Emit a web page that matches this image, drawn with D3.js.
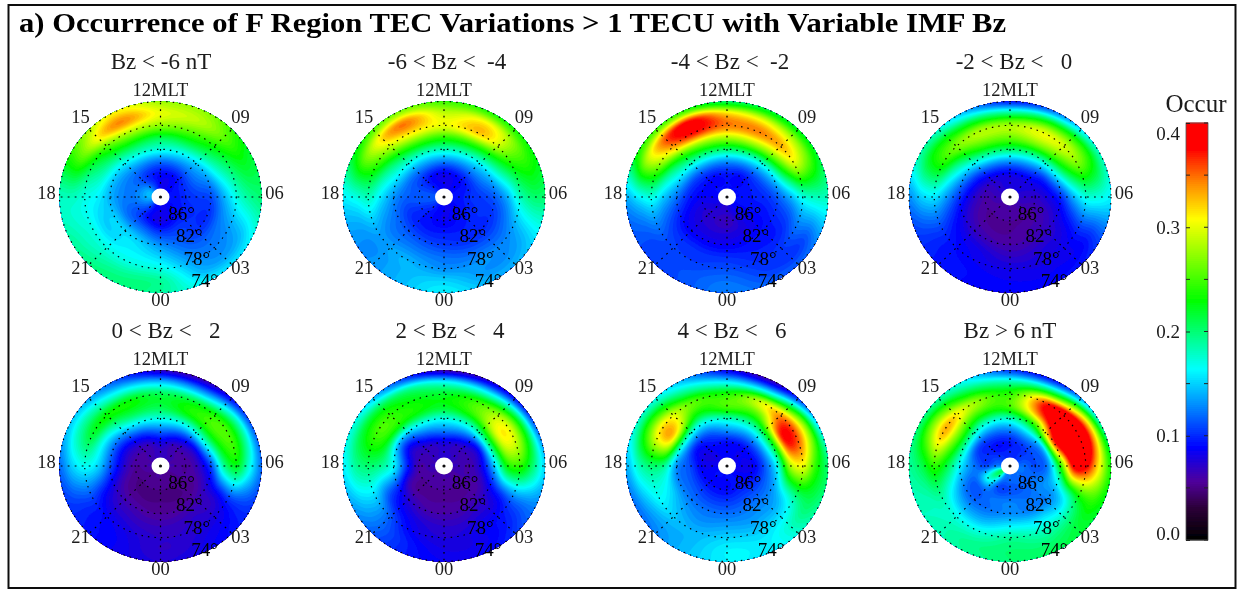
<!DOCTYPE html>
<html>
<head>
<meta charset="utf-8">
<title>Occurrence of F Region TEC Variations</title>
<script src="https://cdn.jsdelivr.net/npm/d3@7"></script>
<style>
  html, body { margin: 0; padding: 0; background: #fff; }
  svg { display: block; }
  text { font-family: "Liberation Serif", serif; fill: #1c1c1c; white-space: pre; }
</style>
</head>
<body>
<div id="chart"></div>
<script>
"use strict";

// columns of every panel array
var mltHours = [0, 2, 4, 6, 8, 10, 12, 14, 16, 18, 20, 22];
// rows of every panel array
var latRows = [74, 76, 78, 80, 82, 84, 86, 88];

var gridLats = [86, 82, 78, 74];
var gridMlt = [0, 3, 6, 9, 12, 15, 18, 21];
var mltLabels = ["00", "03", "06", "09", "12MLT", "15", "18", "21"];
var latLabels = ["86°", "82°", "78°", "74°"];
var colorTicks = [0, 0.1, 0.2, 0.3, 0.4];
var colorMinorTicks = [0.05, 0.15, 0.25, 0.35];

var panelTitles = ["Bz < -6 nT", "-6 < Bz <  -4", "-4 < Bz <  -2", "-2 < Bz <   0",
                   "0 < Bz <   2", "2 < Bz <   4", "4 < Bz <   6", "Bz > 6 nT"];

var occBzBelowM6 = [
  [.19, .16, .16, .20, .22, .27, .28, .31, .25, .18, .19, .20],
  [.19, .14, .14, .19, .23, .28, .30, .34, .26, .18, .18, .19],
  [.17, .13, .13, .17, .21, .25, .27, .28, .22, .17, .17, .17],
  [.15, .12, .12, .14, .18, .21, .21, .22, .19, .16, .15, .16],
  [.13, .11, .10, .11, .14, .16, .17, .17, .15, .14, .15, .15],
  [.105, .105, .10, .105, .12, .12, .12, .125, .125, .125, .12, .12],
  [.08, .09, .095, .10, .10, .09, .09, .10, .12, .125, .11, .09],
  [.085, .085, .09, .09, .09, .085, .085, .11, .14, .14, .12, .09]
];
var occBzM6M4 = [
  [.16, .14, .15, .20, .23, .24, .25, .27, .23, .16, .13, .14],
  [.15, .13, .14, .20, .25, .31, .29, .345, .27, .17, .13, .14],
  [.13, .13, .13, .18, .24, .32, .30, .31, .25, .18, .135, .14],
  [.12, .115, .115, .14, .20, .24, .24, .24, .20, .155, .125, .125],
  [.105, .10, .10, .115, .15, .175, .18, .175, .16, .13, .115, .11],
  [.095, .095, .10, .105, .12, .125, .125, .125, .12, .115, .10, .095],
  [.085, .09, .095, .10, .095, .09, .085, .09, .105, .115, .10, .09],
  [.085, .085, .09, .09, .09, .085, .085, .09, .105, .115, .105, .09]
];
var occBzM4M2 = [
  [.125, .115, .125, .18, .22, .22, .21, .25, .24, .14, .11, .11],
  [.12, .105, .11, .18, .27, .30, .32, .38, .30, .16, .11, .11],
  [.11, .10, .115, .17, .30, .34, .345, .37, .28, .17, .115, .105],
  [.10, .095, .10, .14, .24, .28, .28, .27, .21, .145, .105, .10],
  [.085, .09, .095, .115, .16, .19, .20, .19, .16, .12, .09, .085],
  [.075, .08, .09, .10, .115, .125, .13, .125, .11, .095, .08, .075],
  [.065, .08, .09, .095, .095, .09, .095, .09, .09, .085, .075, .07],
  [.075, .085, .09, .09, .09, .09, .09, .09, .09, .085, .08, .075]
];
var occBzM2P0 = [
  [.09, .09, .105, .16, .18, .13, .10, .15, .19, .13, .10, .09],
  [.085, .085, .095, .17, .24, .23, .20, .22, .23, .15, .10, .09],
  [.08, .08, .095, .17, .27, .30, .28, .28, .24, .155, .10, .085],
  [.07, .075, .085, .14, .23, .27, .26, .25, .19, .13, .09, .08],
  [.06, .065, .075, .10, .16, .19, .20, .185, .14, .10, .075, .065],
  [.055, .06, .065, .08, .10, .125, .13, .12, .095, .075, .06, .055],
  [.055, .055, .06, .07, .08, .085, .085, .08, .07, .06, .055, .055],
  [.06, .06, .065, .07, .075, .075, .075, .075, .07, .065, .06, .06]
];
var occBzP0P2 = [
  [.075, .085, .10, .12, .11, .07, .075, .12, .15, .12, .10, .085],
  [.07, .08, .10, .17, .19, .14, .15, .17, .19, .15, .10, .085],
  [.07, .075, .095, .22, .25, .22, .21, .23, .22, .165, .10, .08],
  [.065, .07, .08, .19, .24, .235, .21, .21, .17, .15, .085, .07],
  [.055, .06, .07, .11, .17, .17, .17, .155, .12, .11, .07, .06],
  [.05, .05, .055, .07, .085, .105, .12, .10, .08, .075, .055, .05],
  [.05, .05, .055, .055, .06, .065, .08, .065, .06, .055, .05, .05],
  [.055, .055, .055, .06, .06, .065, .065, .065, .06, .06, .055, .055]
];
var occBzP2P4 = [
  [.085, .09, .12, .15, .11, .08, .07, .12, .17, .16, .13, .10],
  [.08, .085, .115, .20, .22, .17, .17, .20, .22, .19, .14, .10],
  [.075, .085, .11, .24, .30, .25, .22, .23, .25, .20, .14, .09],
  [.07, .075, .095, .23, .30, .25, .22, .23, .23, .19, .11, .08],
  [.06, .065, .08, .15, .20, .18, .17, .165, .135, .16, .09, .065],
  [.055, .055, .06, .085, .09, .115, .125, .11, .08, .10, .06, .055],
  [.055, .055, .06, .06, .065, .07, .08, .07, .065, .06, .055, .055],
  [.06, .06, .06, .065, .065, .07, .07, .07, .065, .065, .06, .06]
];
var occBzP4P6 = [
  [.16, .16, .19, .20, .15, .07, .09, .15, .18, .14, .12, .14],
  [.16, .16, .20, .24, .27, .17, .165, .20, .25, .18, .14, .14],
  [.15, .15, .18, .30, .36, .30, .24, .26, .32, .20, .16, .14],
  [.135, .135, .155, .28, .37, .26, .25, .23, .32, .19, .15, .13],
  [.12, .125, .13, .17, .22, .19, .18, .16, .18, .13, .125, .12],
  [.105, .11, .11, .115, .13, .13, .13, .11, .10, .11, .11, .105],
  [.09, .095, .09, .085, .09, .09, .09, .09, .08, .085, .09, .09],
  [.09, .09, .085, .085, .085, .085, .09, .085, .08, .085, .09, .09]
];
var occBzAboveP6 = [
  [.20, .21, .22, .23, .18, .10, .11, .17, .20, .19, .18, .19],
  [.20, .20, .23, .31, .33, .22, .19, .22, .27, .21, .18, .19],
  [.19, .18, .21, .38, .44, .37, .245, .28, .33, .24, .18, .17],
  [.16, .155, .17, .38, .44, .36, .25, .24, .27, .21, .15, .14],
  [.13, .125, .14, .24, .36, .25, .18, .17, .19, .16, .12, .12],
  [.125, .12, .13, .13, .15, .15, .125, .115, .11, .125, .115, .12],
  [.11, .115, .12, .11, .11, .105, .095, .09, .10, .11, .17, .11],
  [.12, .12, .12, .12, .11, .10, .10, .10, .11, .13, .21, .13]
];
var panelValues = [occBzBelowM6, occBzM6M4, occBzM4M2, occBzM2P0,
                   occBzP0P2, occBzP2P4, occBzP4P6, occBzAboveP6];

// colour table
var colorStops = [0, 0.03, 0.055, 0.088, 0.125, 0.163, 0.19, 0.229, 0.307, 0.34, 0.375, 0.4];
var colorValues = ["#000000", "#2c0038", "#50009a", "#0000ff", "#0080ff", "#00ffff",
                   "#00ff99", "#00ff00", "#ffff00", "#ff9000", "#ff0000", "#ff0000"];

var width = 1244, height = 592;
var centersX = [160.5, 444, 727, 1010];
var centersY = [197, 466];
var titleX = [161, 447, 730, 1014, 166, 450, 732, 1010];
var R = 101, RY = 95.5;

var color = d3.scaleLinear().domain(colorStops).range(colorValues).clamp(true);
var rScale = d3.scaleLinear().domain([90, 74]).range([0, R]);
var angleScale = d3.scaleLinear().domain([0, 24]).range([Math.PI, -Math.PI]);

var svg = d3.select("#chart").append("svg")
            .attr("width", width)
            .attr("height", height);

var defs = svg.append("defs");
defs.append("filter").attr("id", "soft")
    .attr("x", "-5%").attr("y", "-5%").attr("width", "110%").attr("height", "110%")
    .append("feGaussianBlur").attr("stdDeviation", 0.65);
defs.append("clipPath").attr("id", "disc")
    .append("circle").attr("r", R);

var root = svg.append("g").attr("filter", "url(#soft)");
root.append("rect").attr("width", width).attr("height", height).attr("fill", "#fff");

// frame
root.append("rect")
    .attr("x", 8.5).attr("y", 5)
    .attr("width", 1227).attr("height", 583)
    .attr("fill", "none")
    .attr("stroke", "#111")
    .attr("stroke-width", 2);

root.append("text")
    .attr("x", 19).attr("y", 32)
    .attr("textLength", 987)
    .attr("lengthAdjust", "spacingAndGlyphs")
    .style("font-size", "28px")
    .style("font-weight", "bold")
    .style("fill", "#000")
    .text("a) Occurrence of F Region TEC Variations > 1 TECU with Variable IMF Bz");

function catmull(a, b, c, d, t) {
  return 0.5 * (2 * b + (c - a) * t + (2 * a - 5 * b + 4 * c - d) * t * t + (3 * b - a - 3 * c + d) * t * t * t);
}

// smooth lookup in one panel's polar table, wraps around in MLT
function lookup(table, lat, mlt) {
  var nc = mltHours.length, nr = latRows.length;
  var u = ((mlt % 24) + 24) % 24 / 2;
  var v = Math.max(0, Math.min(nr - 1, (lat - latRows[0]) / 2));
  var c0 = Math.floor(u), r0 = Math.min(nr - 2, Math.floor(v));
  var tu = u - c0, tv = v - r0;
  var rows = [r0 - 1, r0, r0 + 1, r0 + 2].map(function (r) {
    var row = table[Math.max(0, Math.min(nr - 1, r))];
    return catmull(row[(c0 - 1 + nc) % nc], row[c0 % nc], row[(c0 + 1) % nc], row[(c0 + 2) % nc], tu);
  });
  return catmull(rows[0], rows[1], rows[2], rows[3], tv);
}

var thresholds = d3.range(0, 0.4, 0.005);
var size = 2 * R + 4;

function drawPanel(table, i) {
  var cx = centersX[i % 4], cy = centersY[Math.floor(i / 4)];

  root.append("text")
      .attr("x", titleX[i]).attr("y", cy - 128)
      .attr("text-anchor", "middle")
      .style("font-size", "23px")
      .text(panelTitles[i]);

  // raster in screen pixels, contoured by d3
  var grid = new Array(size * size);
  for (var y = 0; y < size; y++) {
    for (var x = 0; x < size; x++) {
      var dx = x - size / 2, dy = y - size / 2;
      var lat = rScale.invert(Math.sqrt(dx * dx + dy * dy));
      var mlt = 12 - Math.atan2(dx, -dy) * 12 / Math.PI;
      grid[y * size + x] = lookup(table, lat, mlt);
    }
  }
  var contours = d3.contours().size([size, size]).thresholds(thresholds)(grid);

  var g = root.append("g")
              .attr("transform", "translate(" + cx + "," + cy + ") scale(1," + (RY / R) + ")");

  g.append("g").attr("clip-path", "url(#disc)")
   .append("g").attr("transform", "translate(" + (-size / 2) + "," + (-size / 2) + ")")
   .selectAll("path")
   .data(contours)
   .enter()
   .append("path")
   .attr("d", d3.geoPath())
   .attr("fill", function (d) { return color(d.value + 0.0025); });

  g.selectAll(".ring")
   .data(gridLats)
   .enter()
   .append("circle")
   .attr("class", "ring")
   .attr("r", function (d) { return rScale(d); })
   .attr("fill", "none")
   .attr("stroke", "#000")
   .attr("stroke-width", 1.2)
   .attr("stroke-dasharray", "1.5 5");

  var radial = d3.lineRadial()
                 .angle(function (d) { return d[0]; })
                 .radius(function (d) { return d[1]; });
  g.selectAll(".spoke")
   .data(gridMlt)
   .enter()
   .append("path")
   .attr("class", "spoke")
   .attr("d", function (d) { return radial([[angleScale(d), 0], [angleScale(d), R]]); })
   .attr("fill", "none")
   .attr("stroke", "#000")
   .attr("stroke-width", 1.2)
   .attr("stroke-dasharray", "1.8 5.2");

  g.append("circle").attr("r", 9).attr("fill", "#fff");
  g.append("circle").attr("r", 1.6).attr("fill", "#111");

  // MLT labels sit on a slightly squashed ring outside the disc
  root.selectAll(null)
      .data(mltLabels)
      .enter()
      .append("text")
      .attr("text-anchor", "middle")
      .attr("x", function (d, k) {
        var h = gridMlt[k];
        if (h % 6 == 0) return cx + (h == 6 ? 114 : h == 18 ? -114 : 0);
        return cx + (h == 3 || h == 9 ? 80 : -80);
      })
      .attr("y", function (d, k) {
        var h = gridMlt[k];
        var off = { 0: 103, 3: 71, 6: -4, 9: -80, 12: -107, 15: -80, 18: -4, 21: 71 }[h];
        return cy + off + 6;
      })
      .style("font-size", "18.5px")
      .text(function (d) { return d; });

  root.selectAll(null)
      .data(latLabels)
      .enter()
      .append("text")
      .attr("text-anchor", "middle")
      .attr("x", function (d, k) { return cx + 21 + k * 7.7; })
      .attr("y", function (d, k) { return cy + 23 + k * 22.4; })
      .style("font-size", "19px")
      .style("fill", "#000")
      .text(function (d) { return d; });
}

panelValues.forEach(drawPanel);

// colour bar
var barX = 1186, barW = 22, barTop = 123, barBottom = 540;
var barScale = d3.scaleLinear().domain([0, 0.4]).range([barBottom, barTop]);
var barSteps = d3.range(0, 0.4, 0.002);

var bar = root.append("g");
bar.selectAll("rect")
   .data(barSteps)
   .enter()
   .append("rect")
   .attr("x", barX)
   .attr("width", barW)
   .attr("y", function (d) { return barScale(d + 0.002) - 0.5; })
   .attr("height", function (d) { return barScale(d) - barScale(d + 0.002) + 1; })
   .attr("fill", function (d) { return color(d); });

bar.append("rect")
   .attr("x", barX).attr("y", barTop)
   .attr("width", barW).attr("height", barBottom - barTop)
   .attr("fill", "none")
   .attr("stroke", "#555")
   .attr("stroke-width", 0.8);

var axis = d3.axisLeft(barScale)
             .tickValues(colorTicks)
             .tickFormat(d3.format(".1f"))
             .tickSize(-4)
             .tickPadding(6);
var axisG = bar.append("g").attr("transform", "translate(" + barX + ",0)").call(axis);
axisG.select(".domain").remove();
axisG.selectAll("line").attr("stroke", "#222");
axisG.selectAll("text")
     .style("font-family", "'Liberation Serif', serif")
     .style("font-size", "19px")
     .attr("dy", function (d) { return d == 0.4 ? "0.95em" : d == 0 ? "-0.05em" : "0.32em"; })
     .attr("y", function (d) { return d == 0.4 ? -2 : 0; });

bar.selectAll(".minor")
   .data(colorTicks.concat(colorMinorTicks))
   .enter()
   .append("line")
   .attr("class", "minor")
   .attr("x1", barX + barW - 4).attr("x2", barX + barW)
   .attr("y1", function (d) { return barScale(d); })
   .attr("y2", function (d) { return barScale(d); })
   .attr("stroke", "#222");
bar.selectAll(".minorl")
   .data(colorMinorTicks)
   .enter()
   .append("line")
   .attr("class", "minorl")
   .attr("x1", barX).attr("x2", barX + 4)
   .attr("y1", function (d) { return barScale(d); })
   .attr("y2", function (d) { return barScale(d); })
   .attr("stroke", "#222");

root.append("text")
    .attr("x", 1196).attr("y", 112)
    .attr("text-anchor", "middle")
    .style("font-size", "25px")
    .text("Occur");
</script>
</body>
</html>
